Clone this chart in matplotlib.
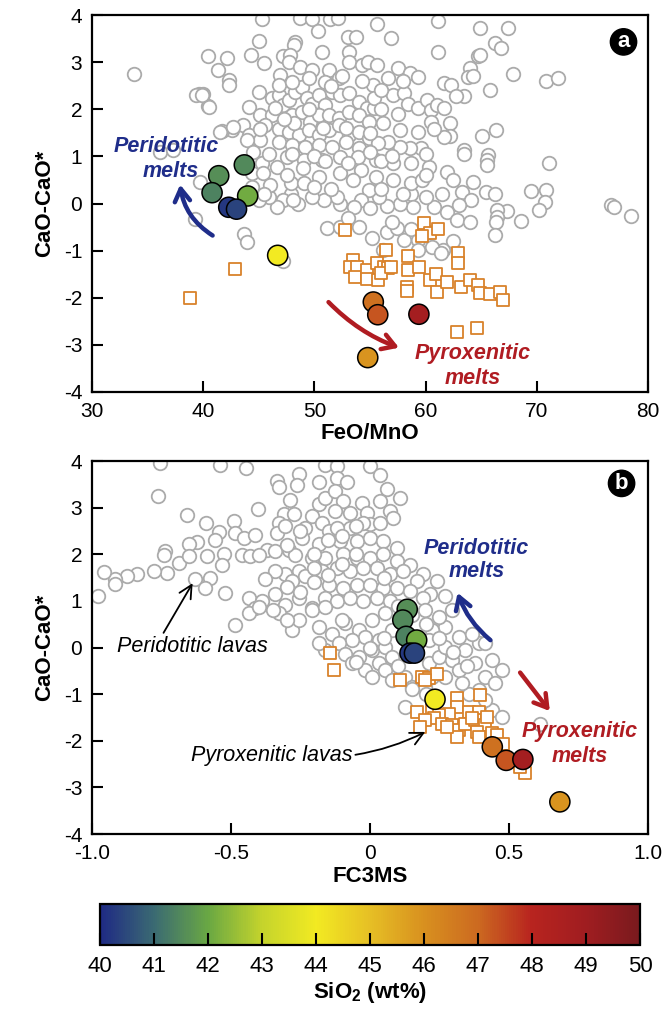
import numpy as np
import matplotlib
matplotlib.use("Agg")
import matplotlib.pyplot as plt
from matplotlib.colors import LinearSegmentedColormap, Normalize
from matplotlib.colorbar import ColorbarBase

plt.rcParams['font.family'] = ['Liberation Sans', 'DejaVu Sans']
plt.rcParams['axes.unicode_minus'] = False
plt.rcParams['mathtext.fontset'] = 'custom'
plt.rcParams['mathtext.rm'] = 'Liberation Sans'
plt.rcParams['mathtext.bf'] = 'Liberation Sans:bold'

# --- data -------------------------------------------------------------
# samples (coloured dots): FeO/MnO, FC3MS, CaO-CaO*, SiO2
feo_mno = [41.4, 43.7, 40.8, 44.0, 42.3, 43.0, 46.7, 55.3, 55.7, 59.4, 54.8]
fc3ms = [0.134, 0.118, 0.130, 0.168, 0.144, 0.160, 0.234, 0.440, 0.490, 0.550, 0.683]
cao_a = [0.59, 0.82, 0.23, 0.16, -0.08, -0.12, -1.10, -2.09, -2.36, -2.35, -3.27]
cao_b = [0.82, 0.59, 0.24, 0.16, -0.12, -0.12, -1.11, -2.13, -2.42, -2.40, -3.31]
sio2 = [41.6, 41.5, 41.4, 42.1, 40.2, 40.4, 44.0, 46.8, 47.3, 48.8, 45.9]

# peridotitic lavas (grey circles), panel a
grey_a = [
    (33.8, 2.74), (40.4, 3.14), (42.1, 3.08), (41.3, 2.83), (42.3, 2.62), (42.3, 2.51),
    (39.6, 2.32), (40.0, 2.32), (40.4, 2.08), (44.3, 3.15), (45.0, 3.45), (45.5, 2.99),
    (45.3, 3.92), (48.3, 3.43), (48.2, 3.36), (48.7, 3.93), (49.8, 3.92), (51.4, 3.92),
    (52.1, 3.93), (50.3, 3.66), (50.7, 3.22), (53.0, 3.54), (53.7, 3.54), (53.1, 3.22),
    (53.1, 3.0), (54.3, 2.94), (47.2, 3.12), (47.8, 3.15), (46.9, 2.73), (47.7, 3.0),
    (48.7, 2.9), (49.8, 2.83), (51.3, 2.83), (52.2, 2.66), (45.0, 2.36), (44.1, 2.05),
    (45.1, 1.88), (43.6, 1.66), (42.6, 1.56), (41.7, 1.54), (44.1, 1.45), (45.1, 1.35),
    (46.2, 2.23), (46.8, 2.30), (47.2, 2.09), (47.7, 2.20), (48.3, 2.37), (48.9, 2.48),
    (49.3, 2.23), (49.8, 2.12), (50.4, 2.30), (51.0, 2.09), (51.6, 2.37), (52.3, 2.30),
    (53.1, 2.34), (54.0, 2.16), (54.7, 2.02), (48.0, 1.88), (48.9, 1.95), (49.6, 1.74),
    (50.4, 1.88), (51.3, 1.88), (52.2, 1.81), (53.1, 1.95), (54.0, 1.88), (54.9, 1.74),
    (46.8, 1.59), (47.7, 1.52), (48.6, 1.45), (49.5, 1.56), (50.4, 1.45), (51.3, 1.56),
    (52.2, 1.66), (53.1, 1.45), (54.0, 1.52), (54.9, 1.38), (46.8, 1.31), (48.0, 1.24),
    (49.2, 1.20), (50.4, 1.24), (51.6, 1.20), (52.8, 1.31), (54.0, 1.17), (46.2, 1.88),
    (45.6, 1.66), (46.8, 2.51), (48.0, 2.58), (49.5, 2.66), (51.0, 2.58), (46.5, 2.02),
    (55.6, 3.82), (61.1, 3.87), (56.9, 3.52), (64.9, 3.72), (67.4, 3.73), (66.2, 3.40),
    (66.8, 3.29), (64.7, 3.12), (64.9, 3.16), (61.1, 3.22), (64.0, 2.87), (63.8, 2.69),
    (64.3, 2.71), (67.9, 2.74), (65.8, 2.41), (70.8, 2.61), (71.9, 2.67), (61.7, 2.55),
    (62.3, 2.51), (63.5, 2.29), (62.7, 2.29), (57.5, 2.87), (58.6, 2.78), (59.3, 2.69),
    (56.6, 2.66), (57.1, 2.30), (58.1, 2.34), (58.4, 2.12), (59.3, 2.02), (60.1, 2.20),
    (60.5, 1.98), (61.0, 2.10), (61.7, 2.02), (60.5, 1.74), (59.3, 1.52), (57.7, 1.56),
    (56.2, 1.70), (55.4, 2.02), (55.3, 2.51), (55.4, 2.23), (62.2, 1.70), (62.2, 1.44),
    (61.7, 1.42), (60.8, 1.59), (59.6, 1.17), (58.6, 1.17), (57.7, 1.20), (56.6, 1.31),
    (55.7, 1.28), (54.8, 3.01), (55.6, 2.94), (65.1, 1.44), (66.3, 1.56), (63.5, 1.13),
    (65.6, 1.04), (76.7, -0.03), (76.9, -0.07), (78.5, -0.27), (71.1, 0.85), (69.5, 0.27),
    (70.8, 0.28), (70.7, 0.04), (70.2, -0.14), (68.6, -0.37), (67.3, -0.15), (66.4, -0.14),
    (66.4, -0.28), (66.3, -0.39), (66.2, -0.67), (65.4, 0.25), (66.2, 0.21), (65.5, 0.92),
    (65.5, 0.82), (63.5, 1.06), (64.3, 0.46), (63.3, 0.25), (64.1, 0.07), (63.0, -0.03),
    (61.9, -0.18), (61.9, 0.67), (60.8, -0.07), (62.8, -0.35), (64.0, -0.39), (61.6, -0.99),
    (60.0, 0.14), (58.7, 0.21), (58.9, -0.07), (57.7, 0.0), (56.5, -0.06), (55.8, 0.14),
    (54.9, 0.29), (54.2, 0.07), (53.6, -0.07), (52.3, 0.0), (52.0, 0.14), (50.9, 0.07),
    (49.8, 0.14), (48.5, 0.0), (47.9, 0.21), (47.2, 0.07), (46.6, -0.07), (45.9, 0.14),
    (45.0, 0.07), (44.4, 0.36), (44.4, 0.64), (45.3, 0.85), (46.6, 0.78), (47.9, 0.43),
    (49.1, 0.43), (50.4, 0.57), (52.3, 0.64), (54.2, 0.71), (55.5, 0.57), (57.1, 0.50),
    (58.7, 0.43), (59.7, 0.50), (60.3, 0.78), (58.7, 0.85), (57.1, 0.85), (55.5, 0.92),
    (53.9, 0.99), (52.3, 0.99), (50.7, 0.92), (49.1, 0.92), (47.5, 0.99), (45.9, 1.06),
    (60.0, 1.06), (39.3, -0.32), (43.7, -0.64), (43.9, -0.81), (47.2, -1.22), (51.1, -0.53),
    (52.3, -0.49), (55.2, -0.74), (56.5, -0.60), (57.4, -0.53), (58.1, -0.78), (59.3, -0.78),
    (60.6, -0.92), (61.4, -1.06), (59.3, -0.99), (56.2, -0.99), (36.1, 1.10), (37.3, 1.13),
    (39.7, 0.46), (45.1, 1.59), (43.9, 1.35), (42.7, 1.63), (41.5, 1.52), (44.5, 1.10),
    (45.4, 0.64), (46.0, 0.39), (48.1, 0.07), (39.4, 2.30), (39.9, 2.30), (40.5, 2.05),
    (50.0, 1.0), (51.0, 0.9), (53.0, 0.85), (55.0, 1.1), (56.0, 0.9), (57.0, 1.0),
    (49.0, 0.75), (48.0, 1.05), (55.0, 1.5), (56.0, 2.0), (57.5, 1.9), (52.5, 2.7),
    (51.5, 2.5), (49.5, 2.0), (48.2, 1.7), (47.3, 1.8), (50.8, 1.6), (52.8, 1.6),
    (54.3, 2.6), (56.0, 2.4), (58.0, 2.6), (53.5, 0.5), (51.5, 0.3), (50.0, 0.35),
    (56.0, 0.3), (58.0, 0.2), (55.0, -0.1), (53.0, -0.3), (54.0, -0.5), (57.0, -0.4),
    (58.7, -0.55), (60.2, -0.6), (62.5, -0.8), (60.0, 0.6), (61.5, 0.2), (62.5, 0.5),
    (47.5, 0.6), (45.5, 0.2),
]

# peridotitic lavas (grey circles), panel b
grey_b = [
    (-0.754, 3.96), (-0.538, 3.91), (-0.446, 3.84), (-0.763, 3.25), (-0.658, 2.84),
    (-0.590, 2.68), (-0.490, 2.71), (-0.403, 2.98), (-0.544, 2.48), (-0.556, 2.30),
    (-0.622, 2.27), (-0.652, 2.21), (-0.739, 2.08), (-0.742, 1.98), (-0.688, 1.82),
    (-0.652, 1.96), (-0.586, 1.96), (-0.526, 2.00), (-0.484, 2.46), (-0.454, 2.35),
    (-0.412, 2.41), (-0.371, 2.10), (-0.341, 2.07), (-0.293, 2.10), (-0.269, 1.98),
    (-0.460, 1.98), (-0.430, 1.96), (-0.400, 1.98), (-0.532, 1.78), (-0.730, 1.60),
    (-0.778, 1.65), (-0.838, 1.57), (-0.874, 1.53), (-0.916, 1.46), (-0.916, 1.37),
    (-0.958, 1.63), (-0.978, 1.10), (-0.628, 1.48), (-0.574, 1.50), (-0.592, 1.28),
    (-0.520, 1.17), (-0.335, 3.57), (-0.329, 3.44), (-0.257, 3.73), (-0.263, 3.48),
    (-0.185, 3.56), (-0.161, 3.91), (-0.287, 3.16), (-0.311, 2.86), (-0.275, 2.86),
    (-0.329, 2.68), (-0.335, 2.46), (-0.305, 2.61), (-0.233, 2.57), (-0.245, 2.35),
    (-0.209, 2.82), (-0.185, 3.07), (-0.161, 3.21), (-0.173, 2.68), (-0.149, 2.50),
    (-0.185, 2.21), (-0.161, 1.93), (-0.209, 1.93), (-0.257, 1.64), (-0.305, 1.57),
    (-0.341, 1.64), (-0.376, 1.46), (-0.281, 1.42), (-0.233, 1.53), (-0.173, 1.64),
    (-0.149, 1.35), (-0.436, 1.07), (-0.388, 1.00), (-0.341, 1.14), (-0.305, 0.92),
    (-0.257, 1.07), (-0.209, 0.85), (-0.161, 1.07), (-0.412, 0.85), (-0.120, 3.89),
    (-0.120, 3.64), (-0.084, 3.54), (0.000, 3.89), (0.036, 3.71), (0.060, 3.39),
    (0.108, 3.21), (-0.126, 3.36), (-0.096, 3.14), (-0.126, 2.93), (-0.072, 2.89),
    (-0.030, 3.11), (-0.012, 2.89), (0.036, 3.14), (0.072, 2.93), (0.000, 2.64),
    (0.036, 2.68), (0.084, 2.78), (-0.072, 2.57), (-0.024, 2.68), (-0.120, 2.57),
    (-0.108, 2.28), (-0.048, 2.28), (0.000, 2.35), (0.048, 2.28), (0.096, 2.14),
    (-0.096, 2.00), (-0.048, 1.93), (0.000, 1.93), (0.048, 2.00), (0.096, 1.85),
    (0.144, 1.78), (0.192, 1.57), (0.240, 1.42), (-0.120, 1.71), (-0.072, 1.64),
    (-0.024, 1.71), (0.024, 1.71), (0.072, 1.57), (0.120, 1.64), (0.168, 1.42),
    (0.216, 1.14), (0.270, 1.10), (-0.096, 1.28), (-0.048, 1.35), (0.000, 1.35),
    (0.048, 1.28), (0.096, 1.28), (0.144, 1.21), (0.192, 1.07), (-0.120, 1.00),
    (-0.072, 1.07), (-0.024, 1.00), (0.024, 1.07), (0.072, 1.00), (-0.484, 0.48),
    (-0.436, 0.73), (-0.400, 0.87), (-0.329, 0.73), (-0.281, 0.37), (-0.257, 0.59),
    (-0.209, 0.80), (-0.161, 0.87), (-0.185, 0.44), (-0.137, 0.30), (-0.089, 0.52),
    (-0.041, 0.37), (0.007, 0.59), (0.055, 0.73), (0.079, 0.37), (0.031, 0.16),
    (-0.017, 0.23), (-0.065, 0.16), (-0.113, 0.09), (-0.161, -0.06), (-0.185, 0.09),
    (-0.089, -0.13), (-0.041, -0.20), (0.007, -0.06), (0.055, 0.02), (0.079, -0.20),
    (0.031, -0.34), (-0.017, -0.49), (-0.065, -0.34), (0.007, -0.63), (0.055, -0.49),
    (0.079, -0.70), (0.127, -0.63), (0.151, -0.84), (0.199, -0.84), (0.223, -0.63),
    (0.271, -0.63), (0.211, -0.34), (0.247, -0.20), (0.271, 0.02), (0.295, -0.27),
    (0.319, -0.49), (0.343, -0.06), (0.379, -0.34), (0.415, -0.63), (0.451, -0.77),
    (0.475, -0.49), (0.439, -0.27), (0.391, 0.09), (0.319, 0.23), (0.271, 0.44),
    (0.223, 0.37), (0.247, 0.66), (0.295, 0.80), (0.199, 0.80), (0.211, 0.16),
    (0.127, -1.27), (0.439, -1.34), (0.475, -1.49), (0.613, -1.63), (0.415, -1.13),
    (0.391, -0.91), (0.355, -0.99), (0.331, -0.77), (0.415, 0.09), (0.367, 0.30),
    (-0.300, 1.30), (-0.250, 1.20), (-0.200, 1.40), (-0.150, 1.55), (-0.100, 1.80),
    (-0.050, 2.00), (-0.200, 2.00), (-0.100, 2.40), (-0.050, 2.60), (-0.150, 2.30),
    (-0.250, 2.50), (-0.300, 2.20), (-0.200, 1.70), (0.050, 1.50), (0.100, 0.90),
    (0.150, 0.70), (0.200, 0.50), (0.250, 0.20), (0.300, -0.10), (0.350, -0.40),
    (0.050, 0.20), (0.000, 0.00), (-0.050, -0.30), (0.100, -0.40), (0.150, -0.90),
    (0.200, -1.00), (-0.100, 0.60), (-0.300, 0.60), (-0.350, 0.80),
]

# pyroxenitic lavas (orange squares)
sq_a = [
    (38.8, -2.0), (42.9, -1.4), (52.75, -0.57), (59.9, -0.41), (60.4, -0.62), (61.1, -0.55),
    (59.7, -0.69), (56.4, -0.99), (58.4, -1.12), (62.9, -1.06), (62.9, -1.27), (53.5, -1.19),
    (53.2, -1.34), (53.8, -1.34), (53.65, -1.56), (54.7, -1.41), (54.7, -1.6), (55.6, -1.27),
    (55.7, -1.62), (56.3, -1.34), (56.6, -1.37), (56.0, -1.48), (56.9, -1.34), (58.4, -1.41),
    (59.4, -1.34), (58.3, -1.77), (58.3, -1.86), (60.4, -1.63), (60.9, -1.49), (61.0, -1.87),
    (61.9, -1.66), (63.2, -1.77), (64.0, -1.63), (64.7, -1.73), (64.9, -1.89), (65.8, -1.91),
    (66.7, -1.87), (67.0, -2.05), (62.8, -2.72), (64.65, -2.65),
]
sq_b = [
    (-0.143, -0.11), (-0.128, -0.49), (0.109, -0.69), (0.187, -0.64), (0.211, -0.66),
    (0.241, -0.57), (0.199, -0.70), (0.169, -1.38), (0.223, -1.34), (0.313, -1.09),
    (0.397, -1.02), (0.313, -1.27), (0.355, -1.38), (0.391, -1.38), (0.283, -1.42),
    (0.247, -1.45), (0.229, -1.52), (0.259, -1.63), (0.295, -1.67), (0.319, -1.77),
    (0.343, -1.63), (0.379, -1.56), (0.415, -1.67), (0.385, -1.81), (0.391, -1.92),
    (0.439, -1.84), (0.313, -1.92), (0.277, -1.70), (0.199, -1.56), (0.181, -1.70),
    (0.367, -1.52), (0.421, -1.49), (0.558, -2.70), (0.540, -2.56), (0.456, -1.88),
    (0.480, -2.06),
]

sio2_ticks = [40, 41, 42, 43, 44, 45, 46, 47, 48, 49, 50]
cmap_colors = ['#1f2a84', '#3b6b72', '#6aa843', '#c5d42c', '#f2ea22', '#e6bf25',
               '#d8901f', '#cc6a20', '#b8241f', '#a01d20', '#7a1a1e']

# --- style ---------------------------------------------------------------
cmap = LinearSegmentedColormap.from_list('sio2', list(zip(np.linspace(0, 1, 11), cmap_colors)))
norm = Normalize(40, 50)
blue = '#1f2d8a'
red = '#b01c22'
grey = '#ababab'
orange = '#d9822b'
fs = 15

fig = plt.figure(figsize=(6.65, 10.09), dpi=100)
ax_a = fig.add_axes([0.1383, 0.6115, 0.8361, 0.3736])
ax_b = fig.add_axes([0.1383, 0.1734, 0.8361, 0.3697])
cax = fig.add_axes([0.1504, 0.0634, 0.8120, 0.0406])


def style_axes(ax):
    for sp in ax.spines.values():
        sp.set_linewidth(1.6)
    ax.tick_params(direction='in', length=8, width=1.5, top=False, right=False,
                   labelsize=fs, pad=7)
    ax.set_ylim(-4, 4)
    ax.set_yticks(range(-4, 5))
    ax.set_ylabel('CaO-CaO*', fontsize=16, fontweight='bold', labelpad=6)


def draw_points(ax, grey_pts, sq_pts, xs, ys):
    g = np.array(grey_pts)
    ax.scatter(g[:, 0], g[:, 1], s=95, facecolor='white', edgecolor=grey, linewidth=1.3, zorder=2)
    q = np.array(sq_pts)
    ax.scatter(q[:, 0], q[:, 1], marker='s', s=80, facecolor='white', edgecolor=orange,
               linewidth=1.3, zorder=3)
    ax.scatter(xs, ys, s=210, c=sio2, cmap=cmap, norm=norm, edgecolor='black',
               linewidth=1.1, zorder=5)


arrow_big = '->,head_length=0.9,head_width=0.55'
arrow_thin = '->,head_length=0.6,head_width=0.3'

# panel a
draw_points(ax_a, grey_a, sq_a, feo_mno, cao_a)
style_axes(ax_a)
ax_a.set_xlim(30, 80)
ax_a.set_xticks(range(30, 81, 10))
ax_a.set_xlabel('FeO/MnO', fontsize=16, fontweight='bold', labelpad=2)

ax_a.annotate('', xy=(37.9, 0.46), xytext=(41.06, -0.71),
              arrowprops=dict(arrowstyle=arrow_big, lw=3.2, color=blue,
                              connectionstyle='arc3,rad=-0.25'), zorder=6)
ax_a.text(36.7, 1.2, 'Peridotitic', color=blue, fontsize=fs + 0.5, fontweight='bold',
          style='italic', ha='center', va='center', zorder=6)
ax_a.text(37.1, 0.67, 'melts', color=blue, fontsize=fs + 0.5, fontweight='bold',
          style='italic', ha='center', va='center', zorder=6)

ax_a.annotate('', xy=(57.85, -3.08), xytext=(51.1, -2.05),
              arrowprops=dict(arrowstyle=arrow_big, lw=3.2, color=red,
                              connectionstyle='arc3,rad=0.12'), zorder=6)
ax_a.text(64.2, -3.18, 'Pyroxenitic', color=red, fontsize=fs + 0.5, fontweight='bold',
          style='italic', ha='center', va='center', zorder=6)
ax_a.text(64.2, -3.71, 'melts', color=red, fontsize=fs + 0.5, fontweight='bold',
          style='italic', ha='center', va='center', zorder=6)

ax_a.text(77.8, 3.43, 'a', color='white', fontsize=16, fontweight='bold', ha='center',
          va='center', bbox=dict(boxstyle='circle,pad=0.12', fc='black', ec='black'), zorder=7)

# panel b
draw_points(ax_b, grey_b, sq_b, fc3ms, cao_b)
style_axes(ax_b)
ax_b.set_xlim(-1, 1)
ax_b.set_xticks([-1, -0.5, 0, 0.5, 1])
ax_b.set_xticklabels(['-1.0', '-0.5', '0', '0.5', '1.0'])
ax_b.set_xlabel('FC3MS', fontsize=16, fontweight='bold', labelpad=2)

ax_b.annotate('', xy=(0.312, 1.23), xytext=(0.441, 0.12),
              arrowprops=dict(arrowstyle=arrow_big, lw=3.2, color=blue,
                              connectionstyle='arc3,rad=-0.15'), zorder=6)
ax_b.text(0.384, 2.13, 'Peridotitic', color=blue, fontsize=fs + 0.5, fontweight='bold',
          style='italic', ha='center', va='center', zorder=6)
ax_b.text(0.384, 1.62, 'melts', color=blue, fontsize=fs + 0.5, fontweight='bold',
          style='italic', ha='center', va='center', zorder=6)

ax_b.annotate('', xy=(0.653, -1.41), xytext=(0.534, -0.49),
              arrowprops=dict(arrowstyle=arrow_big, lw=3.2, color=red), zorder=6)
ax_b.text(0.755, -1.81, 'Pyroxenitic', color=red, fontsize=fs + 0.5, fontweight='bold',
          style='italic', ha='center', va='center', zorder=6)
ax_b.text(0.755, -2.33, 'melts', color=red, fontsize=fs + 0.5, fontweight='bold',
          style='italic', ha='center', va='center', zorder=6)

ax_b.annotate('Peridotitic lavas', xy=(-0.638, 1.38), xytext=(-0.640, 0.03),
              fontsize=fs + 0.5, style='italic', ha='center', va='center', zorder=6,
              arrowprops=dict(arrowstyle=arrow_thin, lw=1.3, color='black',
                              shrinkA=0, shrinkB=0, relpos=(0.3, 1.0)))
ax_b.annotate('Pyroxenitic lavas', xy=(0.199, -1.81), xytext=(-0.353, -2.31),
              fontsize=fs + 0.5, style='italic', ha='center', va='center', zorder=6,
              arrowprops=dict(arrowstyle=arrow_thin, lw=1.3, color='black',
                              shrinkA=0, shrinkB=0, relpos=(1.0, 0.5),
                              connectionstyle='arc3,rad=0.08'))

ax_b.text(0.905, 3.52, 'b', color='white', fontsize=16, fontweight='bold', ha='center',
          va='center', bbox=dict(boxstyle='circle,pad=0.12', fc='black', ec='black'), zorder=7)

# colour bar
cb = ColorbarBase(cax, cmap=cmap, norm=norm, orientation='horizontal', ticks=sio2_ticks)
cb.outline.set_linewidth(1.6)
cax.tick_params(direction='in', length=9, width=1.5, labelsize=16, pad=8)
cb.set_label(r'SiO$_{\mathbf{2}}$ (wt%)', fontsize=16, fontweight='bold', labelpad=2)

fig.savefig('out.png', dpi=100)
